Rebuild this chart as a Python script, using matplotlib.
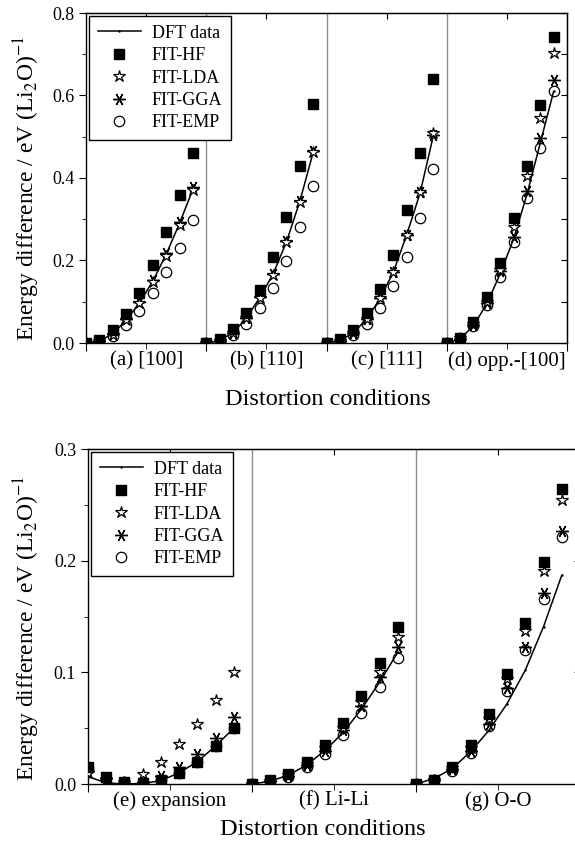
import numpy as np
import matplotlib
matplotlib.use('Agg')
import matplotlib.pyplot as plt
from matplotlib.ticker import MultipleLocator

plt.rcParams['font.family'] = ['Liberation Serif', 'DejaVu Serif']
plt.rcParams['mathtext.fontset'] = 'stix'

steps = np.arange(9)

# upper figure, panels (a)-(d)
top_labels = ['(a) [100]', '(b) [110]', '(c) [111]', '(d) opp.-[100]']
top_dft = [[0, 0.005, 0.022, 0.055, 0.097, 0.150, 0.215, 0.290, 0.373],
           [0, 0.006, 0.025, 0.060, 0.110, 0.167, 0.245, 0.343, 0.462],
           [0, 0.006, 0.024, 0.058, 0.107, 0.172, 0.262, 0.363, 0.503],
           [0, 0.010, 0.042, 0.095, 0.168, 0.252, 0.360, 0.485, 0.610]]
top_hf = [[0, 0.007, 0.032, 0.070, 0.121, 0.188, 0.268, 0.359, 0.461],
          [0, 0.010, 0.034, 0.073, 0.129, 0.208, 0.306, 0.429, 0.580],
          [0, 0.010, 0.032, 0.072, 0.132, 0.213, 0.322, 0.461, 0.640],
          [0, 0.012, 0.050, 0.111, 0.195, 0.302, 0.429, 0.577, 0.743]]
top_lda = [[0, 0.005, 0.020, 0.055, 0.097, 0.148, 0.210, 0.285, 0.370],
           [0, 0.006, 0.025, 0.060, 0.110, 0.166, 0.246, 0.343, 0.463],
           [0, 0.006, 0.024, 0.058, 0.108, 0.173, 0.263, 0.365, 0.508],
           [0, 0.011, 0.045, 0.100, 0.178, 0.280, 0.405, 0.545, 0.702]]
top_gga = [[0, 0.005, 0.022, 0.057, 0.100, 0.153, 0.218, 0.293, 0.378],
           [0, 0.006, 0.025, 0.061, 0.111, 0.168, 0.248, 0.345, 0.465],
           [0, 0.006, 0.024, 0.058, 0.108, 0.173, 0.262, 0.365, 0.504],
           [0, 0.010, 0.043, 0.097, 0.174, 0.258, 0.369, 0.498, 0.638]]
top_emp = [[0, 0.004, 0.018, 0.044, 0.078, 0.121, 0.171, 0.230, 0.297],
           [0, 0.005, 0.020, 0.047, 0.085, 0.133, 0.199, 0.280, 0.381],
           [0, 0.005, 0.020, 0.046, 0.084, 0.138, 0.209, 0.302, 0.422],
           [0, 0.010, 0.040, 0.091, 0.160, 0.246, 0.351, 0.472, 0.611]]

# lower figure, panels (e)-(g)
bot_labels = ['(e) expansion', '(f) Li-Li', '(g) O-O']
bot_dft = [[0.0066, 0.001, 0.0, 0.0005, 0.003, 0.010, 0.020, 0.034, 0.050],
           [0, 0.0025, 0.008, 0.017, 0.030, 0.046, 0.067, 0.091, 0.118],
           [0, 0.005, 0.014, 0.029, 0.048, 0.072, 0.102, 0.141, 0.187]]
bot_hf = [[0.0155, 0.006, 0.0018, 0.001, 0.004, 0.0096, 0.020, 0.034, 0.050],
          [0, 0.0036, 0.009, 0.020, 0.035, 0.055, 0.079, 0.108, 0.141],
          [0, 0.004, 0.0155, 0.035, 0.063, 0.0985, 0.144, 0.199, 0.264]]
bot_lda = [[0.010, 0.004, 0.002, 0.009, 0.020, 0.0355, 0.054, 0.075, 0.100],
           [0, 0.003, 0.008, 0.018, 0.032, 0.050, 0.073, 0.100, 0.132],
           [0, 0.004, 0.014, 0.032, 0.058, 0.094, 0.137, 0.191, 0.254]]
bot_gga = [[0.012, 0.005, 0.001, 0.002, 0.007, 0.015, 0.0265, 0.0415, 0.060],
           [0, 0.003, 0.007, 0.017, 0.030, 0.048, 0.070, 0.096, 0.123],
           [0, 0.004, 0.013, 0.030, 0.054, 0.086, 0.123, 0.171, 0.227]]
bot_emp = [[0.014, 0.0055, 0.0017, 0.001, 0.004, 0.0096, 0.020, 0.034, 0.050],
           [0, 0.0025, 0.006, 0.0155, 0.027, 0.044, 0.064, 0.087, 0.113],
           [0, 0.004, 0.012, 0.028, 0.052, 0.083, 0.120, 0.166, 0.221]]

ylabel = 'Energy difference / eV (Li$_2$O)$^{-1}$'


def draw(ax, labels, dft, hf, lda, gga, emp, ymax, ymajor, yminor, label_y):
    n = len(labels)
    for i in range(n):
        x = steps + 9 * i
        ax.plot(x, dft[i], '-', color='black', lw=1.1, marker='.', ms=1.5,
                label='DFT data' if i == 0 else None, zorder=3)
        ax.plot(x, emp[i], 'o', mfc='none', mec='black', mew=0.9, ms=7.5,
                label='FIT-EMP' if i == 0 else None, zorder=4)
        ax.plot(x, gga[i], ls='none', marker=(6, 2, 90), color='black', mew=1, ms=9,
                label='FIT-GGA' if i == 0 else None, zorder=4)
        ax.plot(x, lda[i], '*', mfc='white', mec='black', mew=0.9, ms=9,
                label='FIT-LDA' if i == 0 else None, zorder=4)
        ax.plot(x, hf[i], 's', color='black', ms=6.5,
                label='FIT-HF' if i == 0 else None, zorder=5)
        ax.text(9 * i + 4.5, label_y, labels[i], transform=ax.get_xaxis_transform(),
                ha='center', va='center', fontsize=15)
        if i > 0:
            ax.axvline(9 * i, color='0.55', lw=1, zorder=1)

    ax.set_xlim(0, 9 * n)
    ax.set_ylim(0, ymax)
    ax.set_xticks(np.arange(0, 9 * n + 1, 9))
    ax.set_xticks(np.arange(4.5, 9 * n, 9), minor=True)
    ax.set_xticklabels([])
    ax.yaxis.set_major_locator(MultipleLocator(ymajor))
    ax.yaxis.set_minor_locator(MultipleLocator(yminor))
    ax.yaxis.set_major_formatter(matplotlib.ticker.FormatStrFormatter('%.1f'))
    ax.tick_params(axis='y', which='major', direction='out', length=5, labelsize=13)
    ax.tick_params(axis='y', which='minor', direction='out', length=3)
    ax.tick_params(axis='x', which='major', direction='out', length=6)
    ax.tick_params(axis='x', which='minor', direction='out', length=4)

    top = ax.secondary_xaxis('top')
    top.set_xticks(np.arange(4.5, 9 * n, 9))
    top.tick_params(direction='in', length=4, labeltop=False)
    right = ax.secondary_yaxis('right')
    right.set_yticks(np.arange(0, ymax + 0.001, 0.1))
    right.tick_params(direction='in', length=4, labelright=False)

    for s in ax.spines.values():
        s.set_linewidth(1)

    # legend order as in the original
    handles, names = ax.get_legend_handles_labels()
    order = ['DFT data', 'FIT-HF', 'FIT-LDA', 'FIT-GGA', 'FIT-EMP']
    hmap = dict(zip(names, handles))
    leg = ax.legend([hmap[k] for k in order], order, loc='upper left', fontsize=13,
                    frameon=True, fancybox=False, edgecolor='black',
                    borderaxespad=0.15, handlelength=2.4, handletextpad=0.6,
                    labelspacing=0.3, borderpad=0.5)
    leg.get_frame().set_linewidth(1)
    leg.get_frame().set_alpha(1)


fig = plt.figure(figsize=(5.75, 8.55), dpi=100)

ax1 = fig.add_axes([86 / 575, 1 - 343 / 855, 481 / 575, 330 / 855])
draw(ax1, top_labels, top_dft, top_hf, top_lda, top_gga, top_emp,
     0.8, 0.2, 0.1, -0.054)

ax2 = fig.add_axes([88 / 575, 1 - 784 / 855, 492 / 575, 335 / 855])
draw(ax2, bot_labels, bot_dft, bot_hf, bot_lda, bot_gga, bot_emp,
     0.3, 0.1, 0.05, -0.05)

fig.text(27 / 575, 1 - 188 / 855, ylabel, rotation=90, ha='center', va='center', fontsize=17)
fig.text(27 / 575, 1 - 628 / 855, ylabel, rotation=90, ha='center', va='center', fontsize=17)
fig.text(328 / 575, 1 - 399 / 855, 'Distortion conditions', ha='center', va='center', fontsize=17.5)
fig.text(323 / 575, 1 - 829 / 855, 'Distortion conditions', ha='center', va='center', fontsize=17.5)

fig.savefig('out.png', dpi=100)
